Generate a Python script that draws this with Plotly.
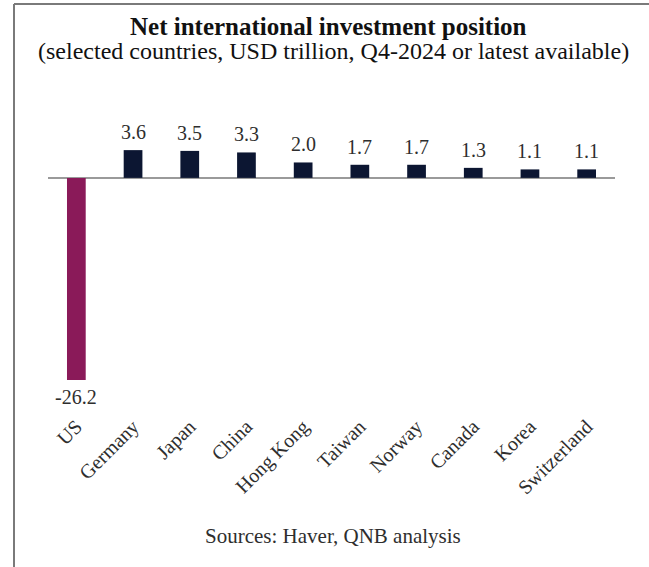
import plotly.graph_objects as go

countries = ["US", "Germany", "Japan", "China", "Hong Kong", "Taiwan",
             "Norway", "Canada", "Korea", "Switzerland"]
niip = [-26.2, 3.6, 3.5, 3.3, 2.0, 1.7, 1.7, 1.3, 1.1, 1.1]
bar_colors = ["#8a1a59"] + ["#0c1632"] * 9

W, H = 649, 567
L, R = 48, 615          # plot area left/right (px)
T, B = 100, 410         # plot area top/bottom (px)
Y_MIN, Y_MAX = -30.1, 10.1

def px_x(x):
    return (x - L) / (R - L)

def px_y(y):
    return (B - y) / (B - T)

SERIF = "Liberation Serif, Times New Roman, serif"
TEXT = "#2e2e2e"

fig = go.Figure(go.Bar(
    x=countries, y=niip,
    marker=dict(color=bar_colors, line=dict(width=0)),
    width=0.33,
    hoverinfo="x+y",
))

# value labels above/below each bar
annotations = []
for c, v in zip(countries, niip):
    annotations.append(dict(
        x=c, y=v, xref="x", yref="y", text=f"{v:.1f}",
        showarrow=False, font=dict(family=SERIF, size=20, color=TEXT),
        xanchor="center",
        yanchor="bottom" if v >= 0 else "top",
        yshift=5 if v >= 0 else -4,
    ))

annotations += [
    dict(x=px_x(328), y=px_y(27), xref="paper", yref="paper",
         xanchor="center", yanchor="middle",
         text="<b>Net international investment position</b>",
         showarrow=False, font=dict(family=SERIF, size=25, color="#111111")),
    dict(x=px_x(333), y=px_y(51), xref="paper", yref="paper",
         xanchor="center", yanchor="middle",
         text="(selected countries, USD trillion, Q4-2024 or latest available)",
         showarrow=False, font=dict(family=SERIF, size=24, color="#111111")),
    dict(x=px_x(333), y=px_y(536), xref="paper", yref="paper",
         xanchor="center", yanchor="middle",
         text="Sources: Haver, QNB analysis",
         showarrow=False, font=dict(family=SERIF, size=21, color=TEXT)),
]

# frame lines along the top and left edges
shapes = [
    dict(type="line", xref="paper", yref="paper",
         x0=px_x(14), x1=px_x(W), y0=px_y(4), y1=px_y(4),
         line=dict(color="#7a7a7a", width=2)),
    dict(type="line", xref="paper", yref="paper",
         x0=px_x(14), x1=px_x(14), y0=px_y(4), y1=px_y(H),
         line=dict(color="#7a7a7a", width=2)),
]

fig.update_layout(
    width=W, height=H,
    margin=dict(l=L, r=W - R, t=T, b=H - B, pad=0),
    paper_bgcolor="white", plot_bgcolor="white",
    showlegend=False,
    annotations=annotations,
    shapes=shapes,
    xaxis=dict(
        tickangle=-45, showline=False, showgrid=False, ticks="",
        tickfont=dict(family=SERIF, size=20, color=TEXT),
        range=[-0.5, len(countries) - 0.5], automargin=False,
    ),
    yaxis=dict(
        range=[Y_MIN, Y_MAX], showgrid=False, showticklabels=False,
        zeroline=True, zerolinecolor="#9a9a9a", zerolinewidth=2,
        automargin=False,
    ),
)

fig.write_html("out.html")
